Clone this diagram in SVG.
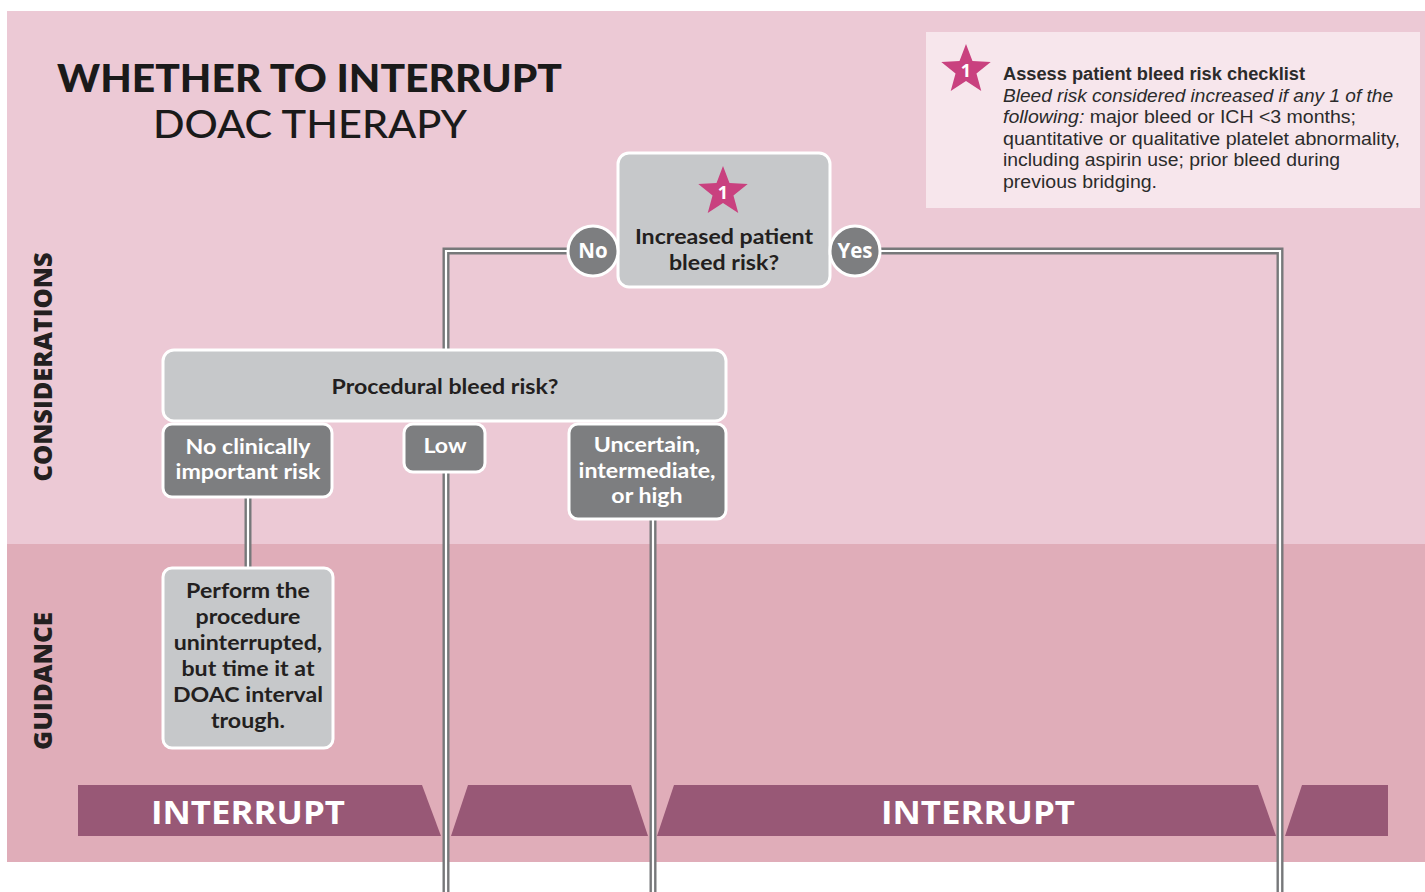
<svg xmlns="http://www.w3.org/2000/svg" width="1425" height="892" viewBox="0 0 1425 892">
<style>
.t{font-family:"Open Sans","Liberation Sans",sans-serif;}
.l{font-family:Lato,"Liberation Sans",sans-serif;}
.light{fill:#c6c8ca;stroke:#ffffff;stroke-width:3;}
.dark{fill:#7d7e80;stroke:#ffffff;stroke-width:3;}
.band{fill:#985876;}
.lo{fill:none;stroke:#77787a;stroke-width:7;}
.li{fill:none;stroke:#ffffff;stroke-width:2.2;}
.q{font-size:20.5px;fill:#231f20;text-anchor:middle;font-weight:700;}
.w{font-size:20.5px;fill:#ffffff;text-anchor:middle;font-weight:700;}
.side{font-size:24px;font-weight:800;fill:#231f20;text-anchor:middle;}
.info{font-family:"Liberation Sans",Arial,sans-serif;font-size:17.5px;fill:#2b2b2b;}
</style>
<defs>
<path id="star" d="M0,-26 L6.47,-8.9 L24.73,-8.03 L10.46,3.4 L15.28,21.03 L0,11 L-15.28,21.03 L-10.46,3.4 L-24.73,-8.03 L-6.47,-8.9 Z" fill="#c9417f"/>
</defs>
<rect x="0" y="0" width="1425" height="892" fill="#ffffff"/>
<rect x="7" y="11" width="1418" height="533" fill="#ecc9d5"/>
<rect x="7" y="544" width="1418" height="318" fill="#e0adb9"/>

<g id="title">
<text class="l" x="57" y="92" font-size="38" font-weight="900" fill="#1a1a1a" textLength="505" lengthAdjust="spacingAndGlyphs">WHETHER TO INTERRUPT</text>
<text class="l" x="153" y="138" font-size="38" font-weight="500" fill="#1a1a1a" textLength="314" lengthAdjust="spacingAndGlyphs">DOAC THERAPY</text>
</g>

<g id="side-labels">
<text class="t side" transform="translate(52,367) rotate(-90)" textLength="229" lengthAdjust="spacingAndGlyphs">CONSIDERATIONS</text>
<text class="t side" transform="translate(52,681) rotate(-90)" textLength="138" lengthAdjust="spacingAndGlyphs">GUIDANCE</text>
</g>

<g id="checklist">
<rect x="926" y="32" width="494" height="176" fill="#f7e6ec"/>
<use href="#star" transform="translate(966,70)"/>
<text class="t" x="966" y="77" font-size="18" font-weight="700" fill="#ffffff" text-anchor="middle">1</text>
<text class="info" x="1003" y="80" font-weight="700" fill="#231f20" textLength="302" lengthAdjust="spacingAndGlyphs">Assess patient bleed risk checklist</text>
<text class="info" x="1003" y="102" font-style="italic" textLength="390" lengthAdjust="spacingAndGlyphs">Bleed risk considered increased if any 1 of the</text>
<text class="info" x="1003" y="123" textLength="353" lengthAdjust="spacingAndGlyphs"><tspan font-style="italic">following:</tspan> major bleed or ICH &lt;3 months;</text>
<text class="info" x="1003" y="145" textLength="397" lengthAdjust="spacingAndGlyphs">quantitative or qualitative platelet abnormality,</text>
<text class="info" x="1003" y="166" textLength="337" lengthAdjust="spacingAndGlyphs">including aspirin use; prior bleed during</text>
<text class="info" x="1003" y="188" textLength="154" lengthAdjust="spacingAndGlyphs">previous bridging.</text>
</g>

<g id="bands">
<polygon class="band" points="78,785 422,785 441,836 78,836"/>
<text class="t" x="151" y="824" font-size="32" font-weight="700" fill="#ffffff" textLength="194" lengthAdjust="spacingAndGlyphs">INTERRUPT</text>
<polygon class="band" points="468,785 631,785 648,836 451,836"/>
<polygon class="band" points="674,785 1258,785 1276,836 657,836"/>
<text class="t" x="881" y="824" font-size="32" font-weight="700" fill="#ffffff" textLength="194" lengthAdjust="spacingAndGlyphs">INTERRUPT</text>
<polygon class="band" points="1302,785 1388,785 1388,836 1285,836"/>
</g>

<g id="connectors">
<path class="lo" d="M568,251 H446 V350"/>
<path class="li" d="M568,251 H446 V350"/>
<path class="lo" d="M880,251 H1280 V892"/>
<path class="li" d="M880,251 H1280 V892"/>
<path class="lo" d="M248,497 V568"/>
<path class="li" d="M248,497 V568"/>
<path class="lo" d="M446,472 V892"/>
<path class="li" d="M446,472 V892"/>
<path class="lo" d="M653,519 V892"/>
<path class="li" d="M653,519 V892"/>
</g>

<g id="patient-risk">
<rect class="light" x="618" y="153" width="212" height="134" rx="11"/>
<use href="#star" transform="translate(723,192)"/>
<text class="t" x="723" y="199" font-size="18" font-weight="700" fill="#ffffff" text-anchor="middle">1</text>
<g transform="matrix(1.13,0,0,1,-94.12,0)">
<text class="l q" x="724" y="244">Increased patient</text>
<text class="l q" x="724" y="270">bleed risk?</text>
</g>
</g>

<g id="no">
<circle class="dark" cx="593" cy="251" r="25"/>
<text class="t w" x="593" y="258" font-size="19" font-weight="700">No</text>
</g>

<g id="yes">
<circle class="dark" cx="855" cy="251" r="25"/>
<text class="t w" x="855" y="258" font-size="19" font-weight="700">Yes</text>
</g>

<g id="procedural-risk">
<rect class="light" x="163" y="350" width="563" height="71" rx="11"/>
<g transform="matrix(1.13,0,0,1,-57.85,0)">
<text class="l q" x="445" y="394">Procedural bleed risk?</text>
</g>
</g>

<g id="no-clinical-risk">
<rect class="dark" x="163" y="424" width="169" height="73" rx="9"/>
<g transform="matrix(1.13,0,0,1,-32.24,0)">
<text class="l w" x="248" y="454">No clinically</text>
<text class="l w" x="248" y="479">important risk</text>
</g>
</g>

<g id="low">
<rect class="dark" x="404" y="424" width="81" height="48" rx="9"/>
<g transform="matrix(1.13,0,0,1,-57.85,0)">
<text class="l w" x="445" y="453">Low</text>
</g>
</g>

<g id="uncertain">
<rect class="dark" x="569" y="424" width="157" height="95" rx="9"/>
<g transform="matrix(1.13,0,0,1,-84.11,0)">
<text class="l w" x="647" y="452">Uncertain,</text>
<text class="l w" x="647" y="478">intermediate,</text>
<text class="l w" x="647" y="503">or high</text>
</g>
</g>

<g id="perform">
<rect class="light" x="163" y="568" width="170" height="180" rx="9"/>
<g transform="matrix(1.13,0,0,1,-32.24,0)">
<text class="l q" x="248" y="598">Perform the</text>
<text class="l q" x="248" y="624">procedure</text>
<text class="l q" x="248" y="650">uninterrupted,</text>
<text class="l q" x="248" y="676">but time it at</text>
<text class="l q" x="248" y="702">DOAC interval</text>
<text class="l q" x="248" y="728">trough.</text>
</g>
</g>
</svg>
